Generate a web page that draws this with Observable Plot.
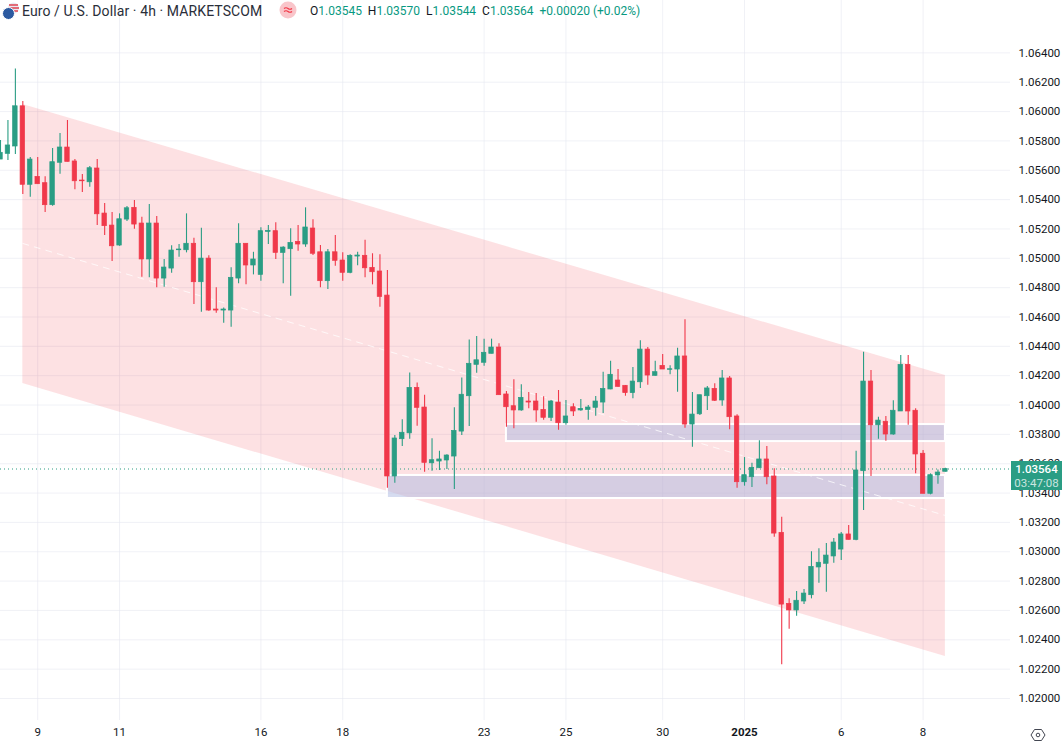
<!DOCTYPE html>
<html>
<head>
<meta charset="utf-8">
<script src="https://cdn.jsdelivr.net/npm/d3@7"></script>
<script src="https://cdn.jsdelivr.net/npm/@observablehq/plot@0.6"></script>
<style>
html,body{margin:0;padding:0;background:#fff;width:1062px;height:742px;overflow:hidden;font-family:Roboto,"Liberation Sans",sans-serif;color:#131722}
#wrap{position:relative;width:1062px;height:742px}
#wrap svg{display:block}
.ov{position:absolute;white-space:nowrap}
#legend span.g{color:#089981}
</style>
</head>
<body>
<div id="wrap"></div>
<script>
const opens = [1.05673,1.05712,1.05762,1.06036,1.05501,1.05555,1.05512,1.05362,1.05651,1.05755,
1.05660,1.05530,1.05518,1.05612,1.05305,1.05223,1.05087,1.05264,1.05344,1.05237,
1.04992,1.05237,1.04862,1.04930,1.05055,1.05055,1.05099,1.04837,1.04998,1.04651,
1.04644,1.04644,1.04862,1.05099,1.04951,1.04887,1.05180,1.05185,1.05037,1.05062,
1.05112,1.05094,1.05203,1.05041,1.04844,1.05041,1.04985,1.04901,1.05012,1.05017,
1.04935,1.04910,1.04746,1.03513,1.03767,1.03807,1.04117,1.03983,1.03603,1.03615,
1.03622,1.03649,1.03819,1.04060,1.04274,1.04288,1.04349,1.04392,1.04072,1.03992,
1.03963,1.04024,1.04024,1.03967,1.03913,1.04017,1.03876,1.03985,1.03963,1.03967,
1.03981,1.04017,1.04106,1.04167,1.04131,1.04081,1.04155,1.04378,1.04199,1.04267,
1.04240,1.04242,1.04331,1.03867,1.03937,1.04060,1.04110,1.04031,1.04181,1.03922,
1.03474,1.03508,1.03569,1.03629,1.03513,1.03129,1.02645,1.02600,1.02661,1.02704,
1.02893,1.02918,1.02968,1.03015,1.03118,1.03081,1.03549,1.04160,1.03862,1.03886,
1.03799,1.03956,1.04274,1.03961,1.03668,1.03395,1.03520,1.03545];
const highs = [1.05803,1.05939,1.06291,1.06068,1.05687,1.05687,1.05555,1.05748,1.05850,1.05939,
1.05673,1.05571,1.05625,1.05673,1.05373,1.05312,1.05303,1.05353,1.05394,1.05280,
1.05366,1.05285,1.04992,1.05085,1.05094,1.05303,1.05137,1.05205,1.05017,1.04799,
1.04662,1.04935,1.05235,1.05099,1.05041,1.05208,1.05223,1.05242,1.05078,1.05201,
1.05223,1.05344,1.05262,1.05087,1.05060,1.05155,1.05037,1.05024,1.05041,1.05123,
1.05031,1.05024,1.04917,1.03792,1.03899,1.04218,1.04151,1.04067,1.03770,1.03685,
1.03661,1.03981,1.04185,1.04444,1.04467,1.04449,1.04449,1.04417,1.04092,1.04172,
1.04138,1.04085,1.04078,1.04056,1.04031,1.04099,1.04031,1.04008,1.04038,1.03997,
1.04058,1.04224,1.04299,1.04242,1.04133,1.04256,1.04438,1.04392,1.04299,1.04344,
1.04267,1.04387,1.04581,1.04085,1.04067,1.04126,1.04145,1.04235,1.04194,1.03933,
1.03642,1.03603,1.03756,1.03717,1.03565,1.03235,1.02679,1.02729,1.02743,1.03000,
1.03020,1.03056,1.03090,1.03131,1.03179,1.03685,1.04360,1.04235,1.03917,1.03922,
1.04029,1.04337,1.04337,1.03974,1.03690,1.03531,1.03558,1.03570];
const lows = [1.05673,1.05666,1.05707,1.05435,1.05416,1.05505,1.05312,1.05355,1.05573,1.05657,
1.05467,1.05448,1.05484,1.05223,1.05155,1.04978,1.05082,1.05251,1.05198,1.04871,
1.04867,1.04799,1.04803,1.04898,1.05007,1.05037,1.04685,1.04633,1.04639,1.04626,
1.04558,1.04530,1.04826,1.04819,1.04887,1.04844,1.05094,1.04992,1.04826,1.04742,
1.05048,1.05075,1.05019,1.04799,1.04787,1.04946,1.04844,1.04894,1.04949,1.04867,
1.04819,1.04667,1.03433,1.03467,1.03717,1.03767,1.03856,1.03542,1.03549,1.03554,
1.03561,1.03424,1.03792,1.03854,1.04217,1.04265,1.04349,1.04067,1.03849,1.03838,
1.03958,1.03974,1.03883,1.03897,1.03888,1.03828,1.03862,1.03922,1.03958,1.03897,
1.03924,1.03942,1.04104,1.04121,1.04060,1.04042,1.04113,1.04135,1.04196,1.04242,
1.04206,1.04087,1.03842,1.03712,1.03929,1.03963,1.04024,1.03992,1.03831,1.03433,
1.03447,1.03438,1.03569,1.03456,1.03099,1.02230,1.02472,1.02561,1.02640,1.02679,
1.02786,1.02724,1.02922,1.02940,1.03081,1.03075,1.03281,1.03513,1.03767,1.03753,
1.03794,1.03956,1.03862,1.03531,1.03395,1.03388,1.03460,1.03544];
const closes = [1.05719,1.05769,1.06036,1.05501,1.05673,1.05505,1.05362,1.05655,1.05755,1.05657,
1.05525,1.05525,1.05614,1.05300,1.05219,1.05082,1.05266,1.05341,1.05230,1.04992,
1.05237,1.04862,1.04937,1.05053,1.05060,1.05099,1.04837,1.04998,1.04644,1.04644,
1.04651,1.04867,1.05099,1.04951,1.04992,1.05185,1.05187,1.05037,1.05073,1.05105,
1.05094,1.05210,1.05031,1.04844,1.05041,1.04983,1.04901,1.05017,1.05019,1.04932,
1.04905,1.04737,1.03513,1.03772,1.03811,1.04117,1.03981,1.03606,1.03624,1.03629,
1.03656,1.03824,1.04070,1.04281,1.04305,1.04356,1.04392,1.04067,1.03985,1.03963,
1.04049,1.04017,1.03963,1.03913,1.04024,1.03876,1.03922,1.03956,1.03974,1.03983,
1.04024,1.04110,1.04206,1.04124,1.04081,1.04160,1.04378,1.04201,1.04224,1.04242,
1.04244,1.04331,1.03867,1.03935,1.04067,1.04113,1.04029,1.04181,1.03917,1.03474,
1.03522,1.03572,1.03629,1.03508,1.03124,1.02640,1.02600,1.02666,1.02715,1.02897,
1.02925,1.02974,1.03063,1.03118,1.03081,1.03554,1.04160,1.03862,1.03894,1.03799,
1.03961,1.04274,1.03956,1.03663,1.03395,1.03522,1.03540,1.03564];

const lastPrice = 1.03564;
const channelBars = [3, 127];
const channelUpper = [1.06048, 1.04201];
const channelMiddle = [1.05101, 1.03247];
const channelLower = [1.04147, 1.02286];
const zoneStartBars = [68, 52];
const zoneEndBar = 127;
const zoneTops = [1.03867, 1.03520];
const zoneBottoms = [1.03751, 1.03363];
const dateTickBars = [5, 16, 35, 46, 65, 76, 89, 100, 113, 124];
const dateTickLabels = ["9", "11", "16", "18", "23", "25", "30", "2025", "6", "8"];
const priceTicks = d3.range(23).map(k => +(1.02 + k * 0.002).toFixed(3));

const UP = "#2a9d84", DOWN = "#f0384a";
const candles = opens.map((o, i) => ({
  i, open: o, high: highs[i], low: lows[i], close: closes[i],
  color: closes[i] >= o ? UP : DOWN
}));
const channel = channelBars.map((b, k) => ({b, up: channelUpper[k], mid: channelMiddle[k], low: channelLower[k]}));
const zones = zoneStartBars.map((s, k) => ({s, e: zoneEndBar, top: zoneTops[k], bottom: zoneBottoms[k]}));

const chart = Plot.plot({
  width: 1062, height: 742,
  marginLeft: 0, marginRight: 52, marginTop: 0, marginBottom: 22,
  style: {background: "#fff", fontFamily: "Roboto, 'Liberation Sans', sans-serif", fontSize: "11.5px", color: "#131722"},
  x: {type: "linear", domain: [0, 135.75]},
  y: {domain: [1.0185, 1.06757]},
  marks: [
    Plot.gridY(priceTicks, {stroke: "#e6e8f0", strokeOpacity: 0.6}),
    Plot.gridX(dateTickBars, {stroke: "#e6e8f0", strokeOpacity: 0.6}),
    Plot.areaY(channel, {x: "b", y1: "low", y2: "up", fill: "#f23645", fillOpacity: 0.15}),
    Plot.rect(zones, {x1: "s", x2: "e", y1: "bottom", y2: "top", fill: "#adb9e2", fillOpacity: 0.5, stroke: "#fff", strokeWidth: 2}),
    Plot.line(channel, {x: "b", y: "mid", stroke: "#fff", strokeWidth: 1, strokeOpacity: 0.75, strokeDasharray: "6,6"}),
    Plot.ruleY([lastPrice], {stroke: UP, strokeWidth: 1, strokeDasharray: "1,3"}),
    Plot.ruleX(candles, {x: "i", y1: "low", y2: "high", stroke: "color", strokeWidth: 1.1}),
    Plot.rect(candles, {
      x1: d => d.i - 0.3, x2: d => d.i + 0.3,
      y1: d => Math.min(d.open, d.close), y2: d => Math.max(d.open, d.close),
      fill: "color", stroke: "color", strokeWidth: 0.7
    }),
    Plot.axisY(priceTicks, {anchor: "right", tickSize: 0, tickPadding: 8, label: null, tickFormat: d3.format(".5f"), fill: "#131722"}),
    Plot.axisX(dateTickBars, {anchor: "bottom", tickSize: 0, tickPadding: 7, label: null, tickFormat: d => dateTickLabels[dateTickBars.indexOf(d)], fill: "#131722"})
  ]
});
d3.select(chart).selectAll("text").filter(function(){return this.textContent === "2025";}).style("font-weight", "700");

const wrap = document.getElementById("wrap");
wrap.appendChild(chart);

const overlay = document.createElement("div");
overlay.innerHTML = `
<svg class="ov" style="left:2px;top:2px" width="18" height="18" viewBox="0 0 18 18">
  <circle cx="11.5" cy="6" r="5.5" fill="#e8e8f0"/><path d="M7 3h9M6.5 6h10.5M7 9h9" stroke="#e0414f" stroke-width="1.3"/>
  <circle cx="6.5" cy="11.5" r="6" fill="#2c5aa0" stroke="#fff" stroke-width="1"/>
</svg>
<div class="ov" style="left:22px;top:2px;font-size:14px;line-height:18px;letter-spacing:.1px;font-family:Roboto,sans-serif;color:#2a2e39">Euro / U.S. Dollar · 4h · MARKETSCOM</div>
<svg class="ov" style="left:279px;top:1px" width="18" height="18" viewBox="0 0 18 18">
  <circle cx="9" cy="9" r="8.5" fill="#f9c5ca"/><path d="M5 7.5q2-1.5 4 0t4 0M5 10.5q2-1.5 4 0t4 0" fill="none" stroke="#f23645" stroke-width="1.2"/>
</svg>
<div id="legend" class="ov" style="left:310px;top:2px;font-size:12px;line-height:18px;font-family:Roboto,sans-serif">O<span class="g">1.03545</span>&nbsp; H<span class="g">1.03570</span>&nbsp; L<span class="g">1.03544</span>&nbsp; C<span class="g">1.03564</span>&nbsp; <span class="g">+0.00020 (+0.02%)</span></div>
<div class="ov" style="left:1011px;top:461px;width:51px;height:29px;background:#2a9d84;color:#fff;text-align:center;font-size:11.5px;line-height:14px;font-family:Roboto,sans-serif">
  <div style="margin-top:1px;font-weight:500">1.03564</div><div style="opacity:.75">03:47:08</div>
</div>
<svg class="ov" style="left:1030px;top:727px" width="16" height="16" viewBox="0 0 16 16">
  <path d="M4.5 2.5h7L15 8l-3.5 5.5h-7L1 8z" fill="none" stroke="#434651" stroke-width="1"/><circle cx="8" cy="8" r="1.8" fill="none" stroke="#434651"/>
</svg>`;
wrap.appendChild(overlay);
</script>
</body>
</html>
